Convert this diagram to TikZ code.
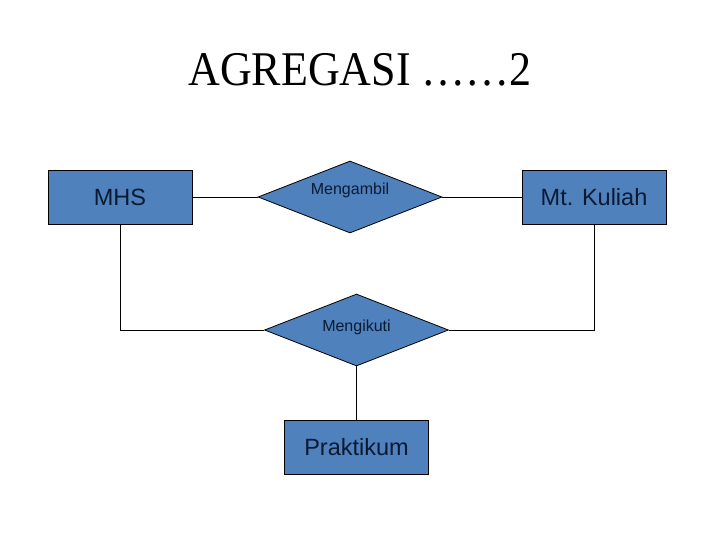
\documentclass[tikz,border=0pt]{standalone}
\usepackage{fontspec}
\setmainfont{Liberation Serif}
\setsansfont{Liberation Sans}
\usepackage{tikz}
\usetikzlibrary{arrows.meta,positioning,shapes.geometric}

\definecolor{erblue}{HTML}{4F81BD}
\definecolor{ertext}{HTML}{0B1A33}

\newcommand{\uplabel}[2]{\smash{\makebox[0pt]{\raisebox{#1}{#2}}}}

\begin{document}
\begin{tikzpicture}[
    x=1pt, y=-1pt,
    entity/.style={rectangle, draw=black, fill=erblue, line width=0.8pt,
                   minimum width=144pt, minimum height=54pt, inner sep=0pt,
                   text=ertext, font=\sffamily\fontsize{23.5}{26}\selectfont},
    relation/.style={diamond, draw=black, fill=erblue, line width=0.8pt,
                     minimum width=184pt, minimum height=72pt, inner sep=0pt,
                     text=ertext, font=\sffamily\fontsize{16}{18}\selectfont},
    link/.style={draw=black, line width=0.8pt},
]
\useasboundingbox (0,0) rectangle (720,540);

% Title
\node[font=\fontsize{44}{50}\selectfont, yscale=1.1] (title) at (360,70) {AGREGASI ……2};

% Entities
\node[entity] (mhs) at (120,197) {MHS};
\node[entity] (kuliah) at (594,197) {Mt. Kuliah};
\node[entity] (praktikum) at (356.5,447) {Praktikum};

% Relations
\node[relation] (ambil) at (350,197) {\uplabel{2pt}{Mengambil}};
\node[relation] (ikut) at (356.5,330) {\uplabel{-1pt}{Mengikuti}};

% Links
\draw[link] (mhs) -- (ambil);
\draw[link] (ambil) -- (kuliah);
\draw[link] (mhs.south) |- (ikut.west);
\draw[link] (kuliah.south) |- (ikut.east);
\draw[link] (ikut) -- (praktikum);
\end{tikzpicture}
\end{document}
